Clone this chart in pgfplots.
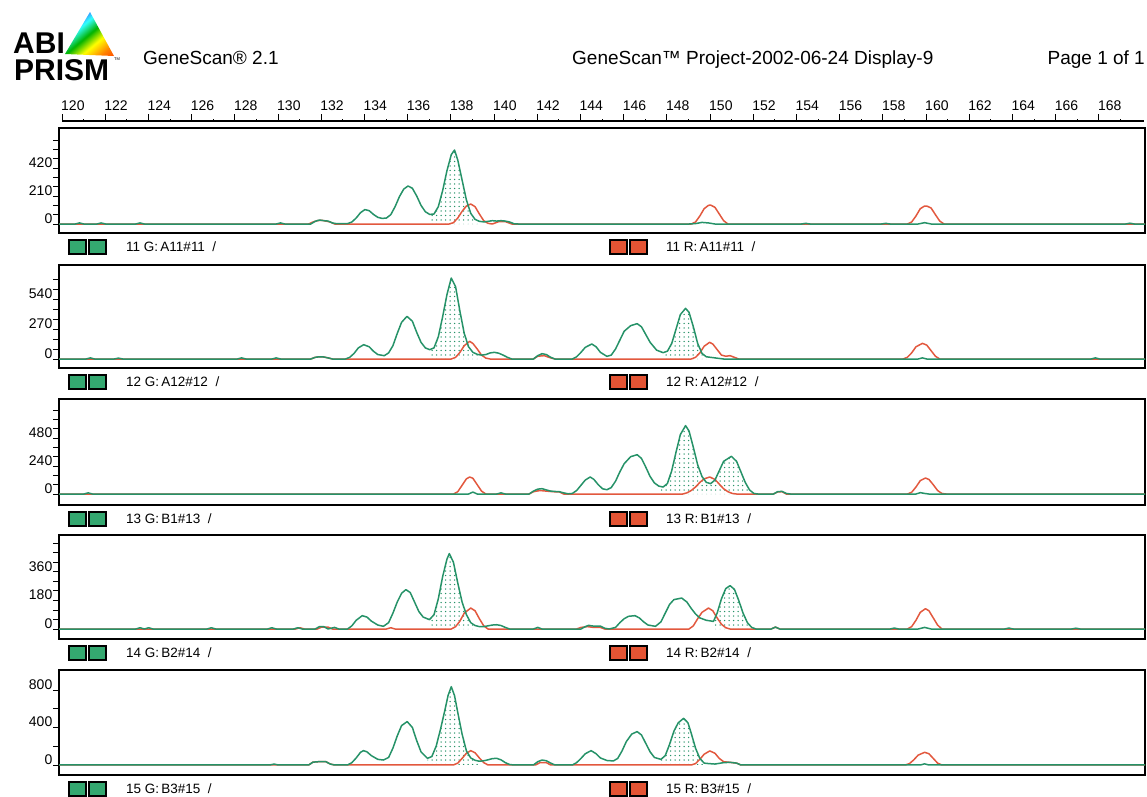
\documentclass[border=0pt]{standalone}
\usepackage{fontspec}
\setmainfont{Liberation Sans}
\usepackage{pgfplots}
\pgfplotsset{compat=1.18}
\usetikzlibrary{patterns.meta}
\definecolor{tg}{RGB}{38,146,104}
\definecolor{tr}{RGB}{226,88,62}
\definecolor{bg}{RGB}{52,168,112}
\definecolor{br}{RGB}{228,84,52}
\pgfdeclarehorizontalshading{rainbow}{100bp}{color(0bp)=(violet!80!black); color(25bp)=(blue!80); color(38bp)=(cyan!80); color(50bp)=(green!70!black); color(62bp)=(yellow); color(76bp)=(orange); color(100bp)=(red)}
\newcommand\tk{\fontsize{14}{14}\selectfont}
\newcommand\lab{\fontsize{13.5}{13.5}\selectfont}
\newcommand\hd{\fontsize{19}{19}\selectfont}
\pgfplotsset{
 panel/.style={scale only axis, width=1086pt, xmin=119.85, xmax=170.1, xtick=\empty,
   ytick pos=left, tick align=outside, major tick length=6pt, minor tick length=6pt,
   tick style={black, line width=0.9pt}, axis line style={black, line width=1.8pt},
   /pgf/number format/assume math mode=true,
   yticklabel style={font=\tk, anchor=south east, inner sep=0.5pt}, anchor=south west},
 gline/.style={tg, line width=1.5pt, line join=round},
 rline/.style={tr, line width=1.5pt, line join=round},
 dotfill/.style={draw=none, pattern={Dots[distance=4.5pt, radius=0.75pt]}, pattern color=tg},
}
\begin{document}
\begin{tikzpicture}
\path[use as bounding box] (0,0) rectangle (1147pt,-796pt);
% logo and header
\shade[shading=rainbow, shading angle=-50] (90pt,-12pt) -- (65pt,-54pt) -- (114pt,-56pt) -- cycle;
\node[anchor=base west, inner sep=0, text height=22pt, text depth=0pt, font=\fontsize{30}{30}\bfseries\selectfont] at (13pt,-53pt) {ABI};
\node[anchor=base west, inner sep=0, text height=22pt, text depth=0pt, font=\fontsize{30}{30}\bfseries\selectfont] at (14pt,-80pt) {PRISM};
\node[anchor=base west, inner sep=0, font=\fontsize{4}{4}\selectfont] at (114pt,-60pt) {TM};
\node[anchor=base west, inner sep=0, font=\hd] at (143pt,-64pt) {GeneScan® 2.1};
\node[anchor=base west, inner sep=0, font=\hd] at (572pt,-64pt) {GeneScan™ Project-2002-06-24 Display-9};
\node[anchor=base east, inner sep=0, font=\hd] at (1145pt,-64pt) {Page 1 of 1};
% ruler
\begin{axis}[scale only axis, width=1082.16pt, height=10pt, at={(62pt,-121pt)}, anchor=north west,
  xmin=120, xmax=170.1, ymin=0, ymax=1, axis x line*=top, axis y line=none,
  xtick={120,122,...,168}, minor xtick={121,123,...,169}, tick align=outside,
  major tick length=7pt, minor tick length=2pt, tick style={black, line width=1pt},
  axis line style={line width=1.2pt, black}, /pgf/number format/assume math mode=true,
  xticklabel style={font=\tk, anchor=south west, inner sep=0pt, yshift=3pt, xshift=-1pt}]
\addplot[draw=none] coordinates {(120,0.5)};
\end{axis}
% panel 1
\begin{axis}[panel, height=105pt, at={(59pt,-233pt)}, ymin=-67.5, ymax=720, ytick={0,210,420}, minor ytick={70,140,280,350,490,560,630}]
\addplot[dotfill] coordinates {(137.0,72) (137.2,75) (137.4,130) (137.6,250) (137.8,400) (138.0,520) (138.15,555) (138.3,480) (138.5,330) (138.7,180) (138.9,80) (139.1,35) (139.3,20)} \closedcycle;
\addplot[rline] coordinates {(119.85,0) (131.4,0) (131.6,15) (131.8,25) (132.0,28) (132.2,22) (132.4,15) (132.6,0) (137.9,0) (138.1,10) (138.3,45) (138.5,95) (138.7,135) (138.9,150) (139.1,130) (139.3,75) (139.5,25) (139.7,5) (139.9,0) (140.2,18) (140.5,18) (140.8,0) (149.1,0) (149.3,15) (149.5,60) (149.7,115) (149.9,140) (150.0,142) (150.2,125) (150.4,75) (150.6,25) (150.8,0) (159.1,0) (159.3,15) (159.5,60) (159.7,115) (159.9,135) (160.0,135) (160.2,120) (160.4,70) (160.6,22) (160.8,0) (170.1,0)};
\addplot[gline] coordinates {(119.85,0) (120.6,0) (120.8,8) (121.0,0) (121.6,0) (121.8,8) (122.0,0) (123.4,0) (123.6,8) (123.8,0) (129.9,0) (130.1,8) (130.3,0) (131.5,0) (131.7,20) (131.9,30) (132.1,25) (132.3,22) (132.5,8) (132.7,2) (133.2,3) (133.4,15) (133.6,45) (133.8,85) (134.0,108) (134.2,100) (134.4,72) (134.6,50) (134.8,42) (135.0,45) (135.2,70) (135.4,130) (135.6,205) (135.8,262) (136.0,285) (136.2,268) (136.4,210) (136.6,140) (136.8,92) (137.0,72) (137.2,75) (137.4,130) (137.6,250) (137.8,400) (138.0,520) (138.15,555) (138.3,480) (138.5,330) (138.7,180) (138.9,80) (139.1,35) (139.3,20) (139.5,16) (139.7,20) (139.9,25) (140.1,22) (140.3,25) (140.5,22) (140.7,15) (140.9,2) (141.1,0) (149.0,0) (149.3,3) (149.6,12) (149.9,8) (150.2,0) (154.2,0) (154.4,5) (154.6,0) (157.9,0) (158.1,5) (158.3,0) (159.6,0) (159.9,10) (160.2,0) (169.2,0) (169.4,6) (169.6,0) (170.1,0)};
\end{axis}
% panel 2
\begin{axis}[panel, height=103pt, at={(59pt,-368pt)}, ymin=-81, ymax=846, ytick={0,270,540}, minor ytick={90,180,360,450,630,720}]
\addplot[dotfill] coordinates {(137.0,84) (137.2,100) (137.4,200) (137.6,380) (137.8,580) (138.0,729) (138.2,650) (138.4,430) (138.6,230) (138.8,110) (139.0,60) (139.2,42) (139.4,35)} \closedcycle;
\addplot[dotfill] coordinates {(147.8,57) (148.0,70) (148.2,140) (148.4,270) (148.6,400) (148.84,456) (149.0,420) (149.2,290) (149.4,140) (149.6,50) (149.8,20)} \closedcycle;
\addplot[rline] coordinates {(119.85,0) (131.5,0) (131.7,15) (131.9,20) (132.1,18) (132.3,10) (132.5,0) (138.0,0) (138.2,15) (138.4,60) (138.6,120) (138.85,159) (139.0,140) (139.2,90) (139.4,35) (139.6,8) (139.8,0) (141.8,0) (142.0,25) (142.3,30) (142.6,10) (142.8,0) (149.1,0) (149.3,15) (149.5,55) (149.7,115) (149.95,150) (150.1,135) (150.3,85) (150.5,35) (150.7,25) (150.9,30) (151.1,15) (151.3,0) (158.9,0) (159.1,15) (159.3,55) (159.5,110) (159.8,141) (160.0,125) (160.2,75) (160.4,25) (160.6,0) (170.1,0)};
\addplot[gline] coordinates {(119.85,0) (121.1,0) (121.3,10) (121.5,0) (122.4,0) (122.6,8) (122.8,0) (128.1,0) (128.3,10) (128.5,0) (129.7,0) (129.9,10) (130.1,0) (131.5,0) (131.7,15) (131.9,20) (132.1,18) (132.3,10) (132.5,0) (133.1,0) (133.3,15) (133.5,50) (133.7,100) (133.95,129) (134.2,110) (134.4,70) (134.6,40) (134.9,30) (135.1,55) (135.3,120) (135.5,230) (135.7,330) (135.95,384) (136.2,340) (136.4,240) (136.6,150) (136.8,100) (137.0,84) (137.2,100) (137.4,200) (137.6,380) (137.8,580) (138.0,729) (138.2,650) (138.4,430) (138.6,230) (138.8,110) (139.0,60) (139.2,42) (139.4,35) (139.6,40) (139.8,55) (140.0,60) (140.2,52) (140.4,35) (140.6,15) (140.8,0) (141.8,0) (142.0,30) (142.2,48) (142.4,40) (142.6,15) (142.8,0) (143.6,0) (143.8,20) (144.0,60) (144.2,105) (144.5,135) (144.7,110) (144.9,60) (145.2,24) (145.4,35) (145.6,90) (145.8,170) (146.0,250) (146.3,300) (146.6,318) (146.8,290) (147.0,220) (147.2,150) (147.5,80) (147.8,57) (148.0,70) (148.2,140) (148.4,270) (148.6,400) (148.84,456) (149.0,420) (149.2,290) (149.4,140) (149.6,50) (149.8,20) (150.0,15) (150.2,10) (150.4,5) (150.6,0) (159.6,0) (159.8,10) (160.0,0) (167.6,0) (167.8,10) (168.0,0) (170.1,0)};
\end{axis}
% panel 3
\begin{axis}[panel, height=106pt, at={(59pt,-505pt)}, ymin=-94, ymax=814, ytick={0,240,480}, minor ytick={80,160,320,400,560,640,720}]
\addplot[dotfill] coordinates {(147.6,68) (147.8,60) (148.0,90) (148.2,200) (148.4,360) (148.6,510) (148.84,586) (149.0,540) (149.2,400) (149.4,250) (149.6,150) (149.8,100) (150.0,89) (150.2,120) (150.4,200) (150.6,280) (150.96,323) (151.2,280) (151.4,190) (151.6,100) (151.8,35) (152.0,5)} \closedcycle;
\addplot[rline] coordinates {(119.85,0) (138.1,0) (138.3,20) (138.5,75) (138.7,130) (138.85,146) (139.0,135) (139.2,80) (139.4,25) (139.6,0) (141.6,0) (141.8,20) (142.1,30) (142.4,25) (142.7,20) (143.0,18) (143.2,0) (148.7,0) (148.9,10) (149.1,30) (149.3,60) (149.5,100) (149.7,130) (149.96,146) (150.2,125) (150.4,85) (150.6,45) (150.8,20) (151.0,5) (151.2,0) (152.9,0) (153.1,18) (153.3,20) (153.5,0) (159.1,0) (159.3,15) (159.5,60) (159.7,115) (159.94,137) (160.1,125) (160.3,80) (160.5,30) (160.7,5) (160.9,0) (170.1,0)};
\addplot[gline] coordinates {(119.85,0) (121.0,0) (121.2,10) (121.4,0) (138.8,0) (139.0,17) (139.2,0) (140.1,0) (140.3,10) (140.5,0) (141.6,0) (141.8,25) (142.0,42) (142.2,46) (142.4,35) (142.6,25) (142.8,22) (143.0,20) (143.2,10) (143.4,2) (143.6,5) (143.8,30) (144.0,75) (144.2,120) (144.43,146) (144.6,125) (144.8,80) (145.0,45) (145.2,37) (145.4,55) (145.6,110) (145.8,190) (146.0,260) (146.3,320) (146.6,337) (146.8,305) (147.0,230) (147.2,150) (147.4,95) (147.6,68) (147.8,60) (148.0,90) (148.2,200) (148.4,360) (148.6,510) (148.84,586) (149.0,540) (149.2,400) (149.4,250) (149.6,150) (149.8,100) (150.0,89) (150.2,120) (150.4,200) (150.6,280) (150.96,323) (151.2,280) (151.4,190) (151.6,100) (151.8,35) (152.0,5) (152.2,0) (152.9,0) (153.1,20) (153.3,23) (153.5,5) (153.7,0) (159.5,0) (159.7,12) (159.9,5) (160.1,0) (170.1,0)};
\end{axis}
% panel 4
\begin{axis}[panel, height=104pt, at={(59pt,-639pt)}, ymin=-63, ymax=592, ytick={0,180,360}, minor ytick={60,120,240,300,420,480,540}]
\addplot[dotfill] coordinates {(136.99,59) (137.2,90) (137.4,190) (137.6,330) (137.8,440) (137.91,475) (138.1,420) (138.3,290) (138.5,170) (138.7,90) (138.9,40) (139.1,22) (139.3,15)} \closedcycle;
\addplot[dotfill] coordinates {(150.13,48) (150.3,100) (150.5,190) (150.7,255) (150.9,273) (151.1,250) (151.3,180) (151.5,100) (151.7,40) (151.9,10) (152.1,0)} \closedcycle;
\addplot[rline] coordinates {(119.85,0) (130.8,0) (131.0,8) (131.2,0) (131.8,0) (132.0,12) (132.3,12) (132.5,0) (135.0,0) (135.2,8) (135.4,0) (138.0,0) (138.2,15) (138.4,50) (138.6,100) (138.9,132) (139.1,115) (139.3,65) (139.5,20) (139.7,0) (143.8,0) (144.0,10) (144.3,15) (144.6,10) (144.9,10) (145.1,0) (149.0,0) (149.2,20) (149.4,65) (149.6,105) (149.9,132) (150.1,115) (150.3,70) (150.5,30) (150.7,8) (150.9,0) (152.8,0) (153.0,12) (153.2,0) (159.1,0) (159.3,15) (159.5,55) (159.7,105) (159.94,128) (160.1,115) (160.3,70) (160.5,25) (160.7,0) (170.1,0)};
\addplot[gline] coordinates {(119.85,0) (123.4,0) (123.6,8) (123.8,0) (124.0,8) (124.2,0) (126.7,0) (126.9,8) (127.1,0) (129.5,0) (129.7,8) (129.9,0) (130.7,0) (130.9,8) (131.1,0) (131.7,0) (131.9,15) (132.1,15) (132.3,0) (132.6,10) (132.8,0) (133.2,0) (133.4,20) (133.6,55) (133.88,84) (134.1,75) (134.3,50) (134.6,25) (134.86,17) (135.1,40) (135.3,100) (135.5,170) (135.7,225) (135.9,248) (136.1,230) (136.3,170) (136.5,110) (136.7,75) (136.99,59) (137.2,90) (137.4,190) (137.6,330) (137.8,440) (137.91,475) (138.1,420) (138.3,290) (138.5,170) (138.7,90) (138.9,40) (139.1,22) (139.3,15) (139.5,15) (139.7,20) (139.9,25) (140.1,27) (140.3,22) (140.5,10) (140.7,0) (141.8,0) (142.0,10) (142.2,0) (144.0,0) (144.2,15) (144.35,23) (144.6,18) (144.9,18) (145.1,5) (145.3,0) (145.6,10) (145.8,40) (146.0,65) (146.2,80) (146.5,84) (146.7,70) (146.9,45) (147.1,25) (147.45,17) (147.7,45) (147.9,100) (148.1,155) (148.3,185) (148.66,195) (148.9,170) (149.1,130) (149.3,95) (149.5,70) (149.8,55) (150.13,48) (150.3,100) (150.5,190) (150.7,255) (150.9,273) (151.1,250) (151.3,180) (151.5,100) (151.7,40) (151.9,10) (152.1,0) (152.8,0) (153.0,12) (153.2,0) (158.3,0) (158.5,6) (158.7,0) (159.6,0) (159.9,10) (160.2,0) (163.6,0) (163.8,6) (164.0,0) (166.7,0) (166.9,5) (167.1,0) (170.1,0)};
\end{axis}
% panel 5
\begin{axis}[panel, height=105pt, at={(59pt,-775pt)}, ymin=-107, ymax=1013, ytick={0,400,800}, minor ytick={200,600}]
\addplot[dotfill] coordinates {(136.9,71) (137.1,90) (137.3,200) (137.5,380) (137.7,580) (137.85,740) (138.0,835) (138.15,740) (138.3,560) (138.5,330) (138.7,150) (138.9,75) (139.1,50) (139.3,40)} \closedcycle;
\addplot[dotfill] coordinates {(147.7,60) (147.9,100) (148.1,220) (148.3,360) (148.5,450) (148.75,498) (148.95,450) (149.1,340) (149.3,180) (149.5,70) (149.7,20)} \closedcycle;
\addplot[rline] coordinates {(119.85,0) (131.4,0) (131.6,30) (131.9,36) (132.2,35) (132.4,10) (132.6,0) (138.1,0) (138.3,20) (138.5,70) (138.7,125) (138.9,153) (139.1,130) (139.3,75) (139.5,25) (139.7,0) (141.9,0) (142.1,25) (142.4,25) (142.6,0) (149.1,0) (149.3,15) (149.5,60) (149.7,115) (149.96,150) (150.2,125) (150.4,70) (150.6,35) (150.9,28) (151.2,20) (151.4,0) (159.0,0) (159.2,15) (159.4,55) (159.6,105) (159.9,135) (160.1,120) (160.3,70) (160.5,20) (160.7,0) (170.1,0)};
\addplot[gline] coordinates {(119.85,0) (129.6,0) (129.8,10) (130.0,0) (131.4,0) (131.6,30) (131.9,36) (132.2,35) (132.4,10) (132.6,0) (133.2,0) (133.4,25) (133.6,75) (133.8,135) (133.94,153) (134.1,140) (134.3,100) (134.6,60) (134.86,53) (135.1,80) (135.3,180) (135.5,310) (135.7,420) (135.96,463) (136.2,400) (136.4,260) (136.6,140) (136.9,71) (137.1,90) (137.3,200) (137.5,380) (137.7,580) (137.85,740) (138.0,835) (138.15,740) (138.3,560) (138.5,330) (138.7,150) (138.9,75) (139.1,50) (139.3,40) (139.5,45) (139.7,55) (139.9,68) (140.1,71) (140.3,55) (140.5,25) (140.7,5) (140.9,0) (141.8,0) (142.0,35) (142.2,53) (142.4,45) (142.6,20) (142.8,0) (143.6,0) (143.8,25) (144.0,70) (144.2,120) (144.47,153) (144.7,120) (144.9,75) (145.2,48) (145.5,43) (145.7,70) (145.9,150) (146.1,250) (146.35,330) (146.6,356) (146.8,320) (147.0,230) (147.2,140) (147.4,80) (147.7,60) (147.9,100) (148.1,220) (148.3,360) (148.5,450) (148.75,498) (148.95,450) (149.1,340) (149.3,180) (149.5,70) (149.7,20) (149.9,15) (150.2,10) (150.6,25) (150.9,28) (151.2,20) (151.4,0) (159.7,0) (159.9,12) (160.1,0) (170.1,0)};
\end{axis}
% panel labels
\foreach \B/\n/\s in {233/11/A11\#11, 368/12/A12\#12, 505/13/B1\#13, 639/14/B2\#14, 775/15/B3\#15}{
  \draw[black, line width=1.1pt, fill=bg] (69pt,-\B pt-7pt) rectangle (86pt,-\B pt-21pt);
  \draw[black, line width=1.1pt, fill=bg] (89pt,-\B pt-7pt) rectangle (106pt,-\B pt-21pt);
  \node[anchor=west, inner sep=0, font=\lab] at (126pt,-\B pt-14pt) {\n\ G:\,\s~~/};
  \draw[black, line width=1.1pt, fill=br] (610pt,-\B pt-7pt) rectangle (627pt,-\B pt-21pt);
  \draw[black, line width=1.1pt, fill=br] (630pt,-\B pt-7pt) rectangle (647pt,-\B pt-21pt);
  \node[anchor=west, inner sep=0, font=\lab] at (666pt,-\B pt-14pt) {\n\ R:\,\s~~/};
}
\end{tikzpicture}
\end{document}
